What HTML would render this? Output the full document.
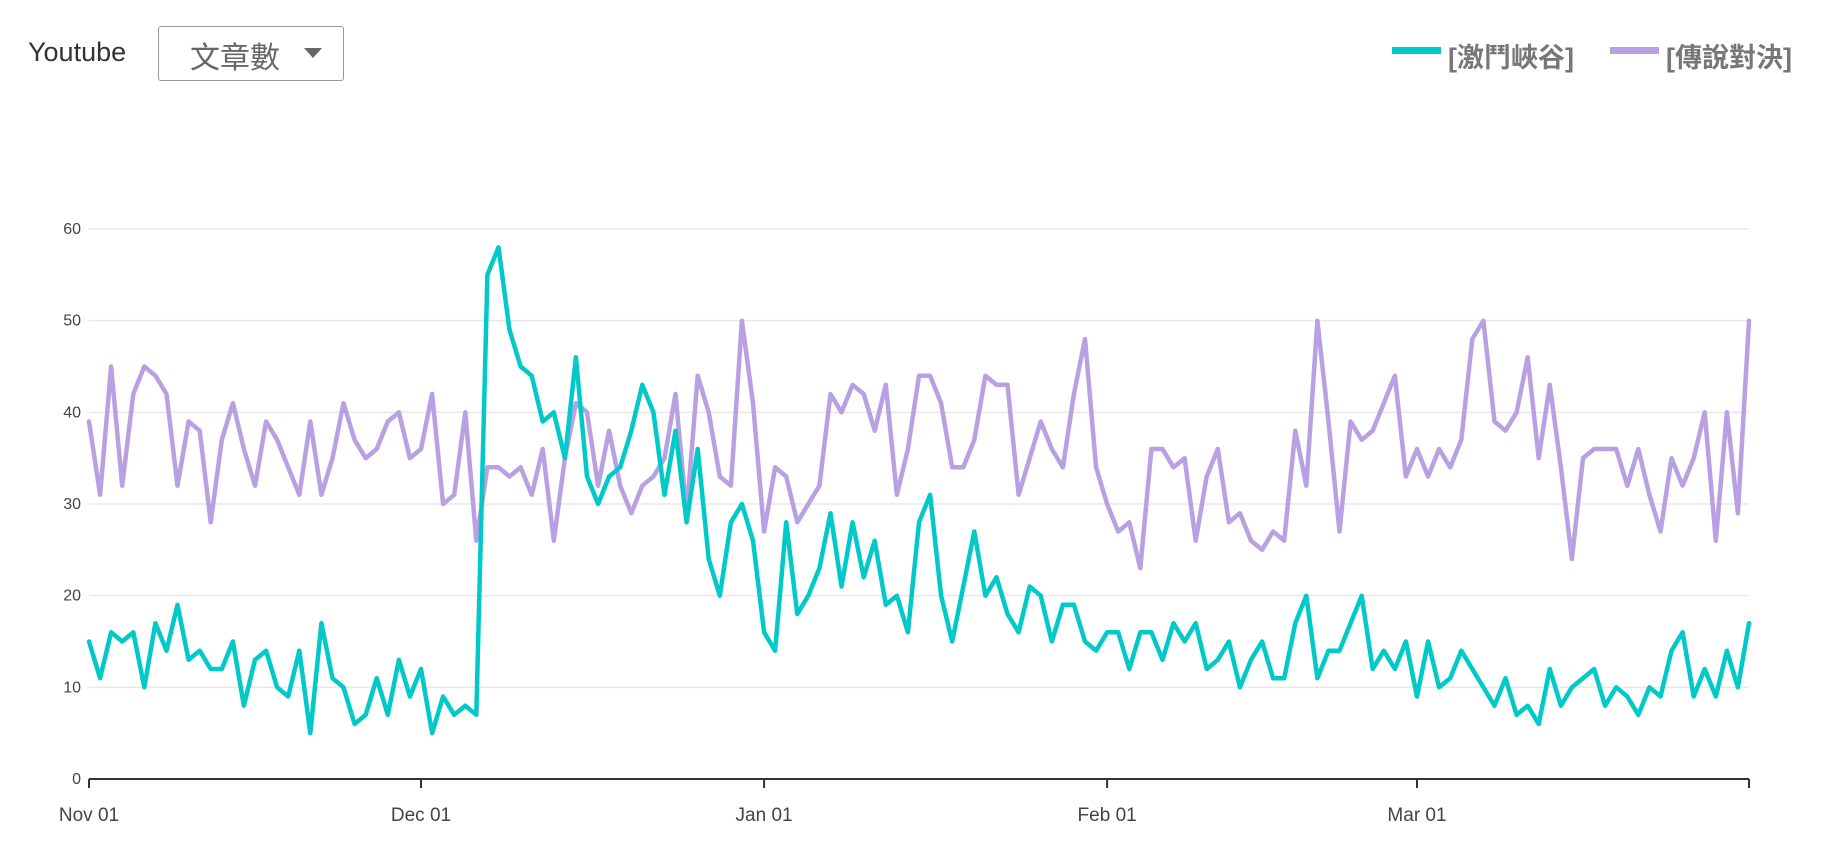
<!DOCTYPE html>
<html><head><meta charset="utf-8"><style>
body{margin:0;background:#fff;width:1840px;height:862px;overflow:hidden;font-family:"Liberation Sans","Noto Sans CJK TC",sans-serif;}
.hdr{position:absolute;left:28px;top:37px;font-size:27px;color:#333;}
.dd{position:absolute;left:158px;top:26px;width:186px;height:55px;border:1.5px solid #999;border-radius:3px;box-sizing:border-box;}
.dd span{position:absolute;left:31px;top:6px;font-size:30px;color:#666;}
.dd i{position:absolute;left:145px;top:21px;width:0;height:0;border-left:9px solid transparent;border-right:9px solid transparent;border-top:10px solid #666;}
.lg{position:absolute;top:36px;font-size:27px;font-weight:bold;color:#777;}
.sw{position:absolute;top:47px;width:49px;height:7px;}
</style></head><body>
<div class="hdr">Youtube</div>
<div class="dd"><span>文章數</span><i></i></div>
<div class="sw" style="left:1392px;background:#00c9c8"></div>
<div class="lg" style="left:1448px">[激鬥峽谷]</div>
<div class="sw" style="left:1610px;background:#b9a0e2"></div>
<div class="lg" style="left:1666px">[傳說對決]</div>
<svg id="chart" width="1840" height="862" style="position:absolute;left:0;top:0"></svg>
<script>
const seriesA=[15,11,16,15,16,10,17,14,19,13,14,12,12,15,8,13,14,10,9,14,5,17,11,10,6,7,
11,7,13,9,12,5,9,7,8,7,55,58,49,45,44,39,40,35,46,33,30,33,34,38,43,
40,31,38,28,36,24,20,28,30,26,16,14,28,18,20,23,29,21,28,22,26,19,20,16,28,31,
20,15,21,27,20,22,18,16,21,20,15,19,19,15,14,16,16,12,16,16,13,17,15,17,12,
13,15,10,13,15,11,11,17,20,11,14,14,17,20,12,14,12,15,9,15,10,11,14,12,10,
8,11,7,8,6,12,8,10,11,12,8,10,9,7,10,9,14,16,9,12,9,14,10,17];
const seriesB=[39,31,45,32,42,45,44,42,32,39,38,28,37,41,36,32,39,37,34,31,39,31,35,41,37,35,
36,39,40,35,36,42,30,31,40,26,34,34,33,34,31,36,26,35,41,40,32,38,32,29,32,
33,35,42,29,44,40,33,32,50,41,27,34,33,28,30,32,42,40,43,42,38,43,31,36,44,44,
41,34,34,37,44,43,43,31,35,39,36,34,42,48,34,30,27,28,23,36,36,34,35,26,33,
36,28,29,26,25,27,26,38,32,50,39,27,39,37,38,41,44,33,36,33,36,34,37,48,50,
39,38,40,46,35,43,34,24,35,36,36,36,32,36,31,27,35,32,35,40,26,40,29,50];
const yTicks=[0,10,20,30,40,50,60];
const monthLabels=["Nov 01","Dec 01","Jan 01","Feb 01","Mar 01"];
const monthDays=[0,30,61,92,120];
const NS="http://www.w3.org/2000/svg";
const svg=document.getElementById('chart');
const X0=89,X1=1749,Y0=779,Y60=229,N=151;
const x=d=>X0+(X1-X0)*d/(N-1);
const y=v=>Y0-(Y0-Y60)*v/60;
function mk(t,a){const e=document.createElementNS(NS,t);for(const k in a)e.setAttribute(k,a[k]);svg.appendChild(e);return e;}
yTicks.forEach(t=>{
  if(t>0){const g=mk('line',{x1:X0,x2:X1,y1:y(t),y2:y(t),stroke:'#e8e8e8','stroke-width':1.5});
  
  }
  const l=mk('text',{x:81,y:y(t)+5,'text-anchor':'end','font-size':16,fill:'#444','font-family':'Liberation Sans, sans-serif'});
  l.textContent=t;
  
  
});
const ax=mk('line',{x1:X0,x2:X1,y1:Y0,y2:Y0,stroke:'#333','stroke-width':2});


monthDays.concat([N-1]).forEach(d=>{const tk=mk('line',{x1:x(d),x2:x(d),y1:Y0,y2:Y0+9,stroke:'#333','stroke-width':2});

});
monthLabels.forEach((m,i)=>{const t=mk('text',{x:x(monthDays[i]),y:821,'text-anchor':'middle','font-size':19,fill:'#444','font-family':'Liberation Sans, sans-serif'});
t.textContent=m;

});
function line(data,color,name){
  const p=mk('path',{d:data.map((v,i)=>(i?'L':'M')+x(i).toFixed(1)+' '+y(v).toFixed(1)).join(''),fill:'none',stroke:color,'stroke-width':4.5,'stroke-linejoin':'round','stroke-linecap':'round'});
  
  
}
line(seriesB,'#b9a0e2','series-aov-line');
line(seriesA,'#00c9c8','series-lol-line');
</script>
</body></html>
